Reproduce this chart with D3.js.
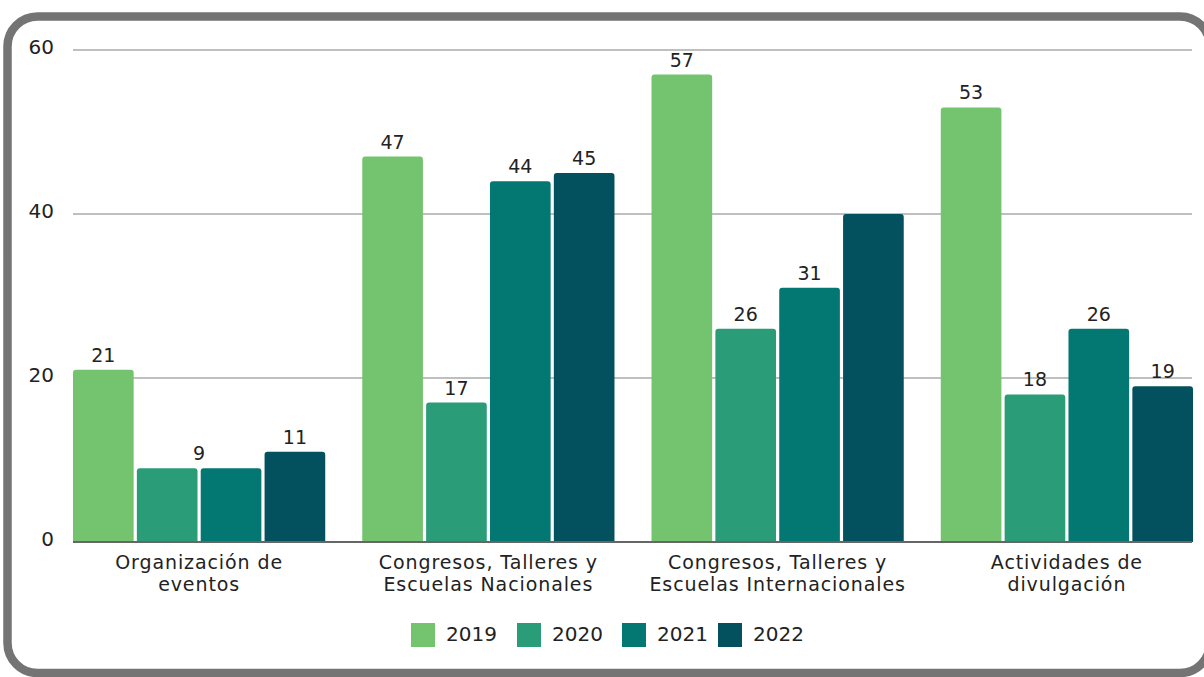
<!DOCTYPE html>
<html><head><meta charset="utf-8">
<script src="https://cdn.jsdelivr.net/npm/d3@7"></script>
<style>
html,body{margin:0;padding:0;background:#fff;}
svg{display:block;font-family:"DejaVu Sans",sans-serif;}
</style></head>
<body><svg id="c" width="1204" height="677"></svg>
<script>
const categories = [["Organización de","eventos"],["Congresos, Talleres y","Escuelas Nacionales"],["Congresos, Talleres y","Escuelas Internacionales"],["Actividades de","divulgación"]];
const years = ["2019","2020","2021","2022"];
const values2019 = [21,47,57,53];
const values2020 = [9,17,26,18];
const values2021 = [9,44,31,26];
const values2022 = [11,45,40,19];
const labelShown2022 = [true,true,false,true];
const yTicks = [0,20,40,60];
const colors = ["#74c46f","#2a9d78","#037772","#03505f"];

const series = [values2019,values2020,values2021,values2022];
const svg = d3.select("#c");

// frame
svg.append("rect").attr("x",7.5).attr("y",16.5).attr("width",1202.5).attr("height",656.5)
  .attr("rx",30).attr("fill","#fff").attr("stroke","#747474").attr("stroke-width",8.5);

const x0 = d3.scaleBand().domain(d3.range(categories.length)).range([73,1193]).paddingInner(0.128).paddingOuter(0);
const x1 = d3.scaleBand().domain(years).range([0,x0.bandwidth()]).paddingInner(0.05).paddingOuter(0);
const y = d3.scaleLinear().domain([0,60]).range([542,50]);

// gridlines
svg.append("g").selectAll("line").data(yTicks.filter(t=>t>0)).join("line")
  .attr("x1",73).attr("x2",1192).attr("y1",d=>y(d)).attr("y2",d=>y(d))
  .attr("stroke","#bfbfbf").attr("stroke-width",2);

// y tick labels
svg.append("g").selectAll("text").data(yTicks).join("text")
  .attr("x",54).attr("y",d=>y(d)-2).attr("text-anchor","end").attr("dominant-baseline","middle")
  .attr("font-size",20).attr("fill","#222").text(d=>d);

// bars
function topRounded(x,yy,w,h,r){
  r=Math.min(r,h,w/2);
  return `M${x},${yy+h}V${yy+r}Q${x},${yy} ${x+r},${yy}H${x+w-r}Q${x+w},${yy} ${x+w},${yy+r}V${yy+h}Z`;
}
const barData = [];
series.forEach((vals,si)=>vals.forEach((v,ci)=>barData.push({si,ci,v})));
svg.append("g").selectAll("path").data(barData).join("path")
  .attr("d",d=>topRounded(x0(d.ci)+x1(years[d.si]),y(d.v),x1.bandwidth(),y(0)-y(d.v),3))
  .attr("fill",d=>colors[d.si]);

// value labels; adjacent equal values in a group share one centred label
const labels = [];
categories.forEach((c,ci)=>{
  let si=0;
  while(si<years.length){
    let sj=si;
    while(sj+1<years.length && series[sj+1][ci]===series[si][ci]) sj++;
    const shown = d3.range(si,sj+1).some(k=>k===3?labelShown2022[ci]:true);
    if(shown){
      const xa=x0(ci)+x1(years[si]), xb=x0(ci)+x1(years[sj])+x1.bandwidth();
      labels.push({x:(xa+xb)/2, v:series[si][ci]});
    }
    si=sj+1;
  }
});
svg.append("g").selectAll("text").data(labels).join("text")
  .attr("x",d=>d.x).attr("y",d=>y(d.v)-8)
  .attr("text-anchor","middle").attr("font-size",19).attr("fill","#222").text(d=>d.v);

// baseline
svg.append("line").attr("x1",73).attr("x2",1192).attr("y1",y(0)).attr("y2",y(0))
  .attr("stroke","#666").attr("stroke-width",2);

// category labels
const cl = svg.append("g").selectAll("text").data(categories).join("text")
  .attr("text-anchor","middle").attr("font-size",19).attr("letter-spacing",0.9).attr("fill","#222");
cl.each(function(lines,i){
  const t=d3.select(this);
  lines.forEach((ln,k)=>t.append("tspan").attr("x",x0(i)+x0.bandwidth()/2).attr("y",569+k*22).text(ln));
});

// legend
const legX = [411,517,622,718];
const lg = svg.append("g").selectAll("g").data(years).join("g");
lg.append("rect").attr("x",(d,i)=>legX[i]).attr("y",623).attr("width",24).attr("height",24).attr("fill",(d,i)=>colors[i]);
lg.append("text").attr("x",(d,i)=>legX[i]+35).attr("y",635).attr("dominant-baseline","middle")
  .attr("font-size",20).attr("fill","#222").text(d=>d);
</script></body></html>
